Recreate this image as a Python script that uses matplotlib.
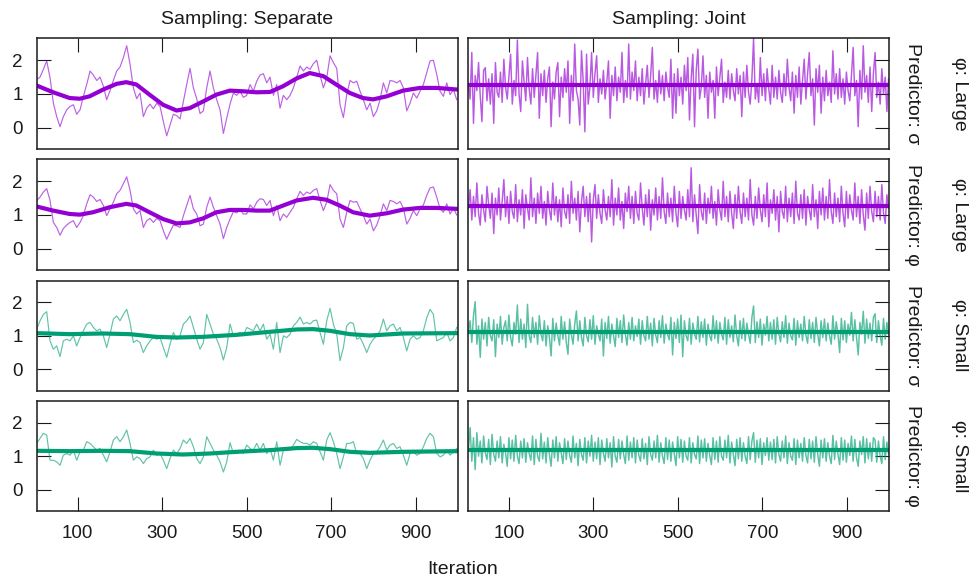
import numpy as np
import matplotlib
matplotlib.use("Agg")
import matplotlib.pyplot as plt

plt.rcParams['font.family'] = ['Liberation Sans', 'DejaVu Sans']

col_labels = ["Sampling: Separate", "Sampling: Joint"]
pred_labels = ["Predictor: σ", "Predictor: φ", "Predictor: σ", "Predictor: φ"]
phi_labels = ["φ: Large", "φ: Large", "φ: Small", "φ: Small"]
x_ticks = [100, 300, 500, 700, 900]
y_ticks = [0, 1, 2]
x_label = "Iteration"

# ---- Separate sampling: traces (read every ~8 iterations) ----
sep_r1 = [1.43,1.50,1.73,1.98,1.48,0.73,0.33,0.03,0.33,0.53,0.63,0.68,0.40,0.53,0.93,1.28,1.68,1.56,1.40,1.50,
          1.23,0.83,1.10,1.40,1.68,1.80,2.08,2.43,1.88,1.18,0.86,1.03,0.33,0.58,0.70,0.56,0.73,0.63,0.18,-0.24,
          0.08,0.40,0.36,0.26,0.78,1.28,1.76,1.18,0.86,0.42,0.50,1.18,1.68,1.18,0.83,0.53,-0.17,0.28,0.70,1.03,
          0.96,1.08,0.90,0.96,1.28,1.08,1.38,1.56,1.60,1.33,1.50,0.96,1.28,0.58,0.96,0.83,0.96,1.18,1.50,1.83,
          1.68,1.80,1.73,1.90,2.00,1.56,1.18,1.48,2.13,1.93,1.76,0.68,0.30,0.98,1.40,1.33,1.38,1.08,0.83,0.53,
          0.73,0.33,0.50,0.83,1.33,1.03,1.40,1.38,1.33,1.40,1.18,0.50,0.73,1.03,0.88,1.08,1.28,1.63,1.98,2.00,
          1.58,1.08,0.93,1.33,0.98,1.13,0.83]
sep_r2 = [1.43,1.53,1.68,1.78,1.43,0.78,0.63,0.40,0.60,0.70,0.78,0.83,0.63,0.78,0.98,1.33,1.60,1.53,1.40,1.46,
          1.28,0.98,1.18,1.38,1.63,1.73,1.93,2.13,1.73,1.18,1.03,1.13,0.63,0.83,0.90,0.78,0.90,0.83,0.53,0.28,
          0.50,0.70,0.68,0.63,0.98,1.28,1.58,1.18,1.03,0.68,0.73,1.23,1.53,1.23,0.98,0.73,0.30,0.63,0.88,1.10,
          1.06,1.16,1.03,1.03,1.30,1.18,1.38,1.48,1.46,1.28,1.43,0.98,1.28,0.83,1.03,0.93,1.08,1.23,1.48,1.70,
          1.58,1.68,1.63,1.73,1.78,1.43,1.13,1.38,1.90,1.73,1.63,0.88,0.63,1.08,1.43,1.38,1.40,1.18,0.98,0.73,
          0.88,0.53,0.70,0.98,1.33,1.13,1.43,1.40,1.33,1.40,1.20,0.73,0.90,1.13,0.98,1.18,1.30,1.58,1.80,1.83,
          1.53,1.18,1.08,1.33,1.03,1.20,1.00]
sep_r3 = [1.20,1.45,1.64,1.72,0.85,0.60,0.70,0.38,0.85,0.90,0.85,1.00,0.70,0.95,1.15,1.35,1.40,1.25,1.15,1.20,
          1.00,0.65,1.05,1.50,1.59,1.45,1.64,1.79,1.40,0.80,0.87,0.80,0.50,0.70,0.85,0.95,0.90,0.95,0.65,0.36,
          0.75,1.10,0.90,1.00,1.35,1.45,1.59,1.25,0.90,0.60,0.80,1.64,1.35,1.05,0.90,0.65,0.28,0.65,1.35,1.00,
          1.05,1.10,1.00,1.25,1.20,1.15,1.35,1.15,1.35,0.90,1.05,0.60,1.40,0.50,1.00,0.95,1.05,1.30,1.40,1.56,
          1.35,1.40,1.35,1.45,1.47,1.10,0.75,1.45,1.82,1.35,1.05,0.26,0.65,1.30,1.40,1.37,0.90,0.95,0.75,0.50,
          0.75,0.90,1.00,1.15,1.50,1.15,1.30,1.35,1.15,1.25,0.95,0.55,0.90,1.00,0.90,0.95,1.15,1.54,1.79,1.64,
          0.85,0.90,0.95,1.10,0.85,0.95,1.25]
sep_r4 = [1.38,1.53,1.68,1.63,0.88,0.88,0.83,0.73,1.03,1.08,1.03,1.18,0.88,1.13,1.18,1.43,1.38,1.28,1.18,1.23,
          1.03,0.83,1.13,1.48,1.58,1.43,1.58,1.78,1.38,0.88,0.98,0.93,0.78,0.93,0.98,1.18,1.03,1.08,0.88,0.63,
          0.93,1.18,1.08,1.23,1.48,1.38,1.53,1.28,0.93,0.78,0.98,1.58,1.38,1.18,1.03,0.83,0.53,0.83,1.40,1.08,
          1.08,1.13,1.08,1.33,1.23,1.18,1.38,1.18,1.38,1.08,1.23,0.88,1.43,0.73,1.18,1.18,1.18,1.33,1.50,1.43,
          1.38,1.38,1.33,1.43,1.38,1.13,0.88,1.48,1.70,1.43,1.08,0.63,0.98,1.38,1.38,1.43,1.08,1.08,0.93,0.63,
          0.88,1.08,1.13,1.28,1.48,1.18,1.33,1.38,1.23,1.28,1.03,0.73,1.08,1.13,1.03,1.08,1.28,1.53,1.68,1.58,
          1.08,0.98,1.03,1.18,1.03,1.13,1.23]
sep_traces = [sep_r1, sep_r2, sep_r3, sep_r4]

# ---- Separate sampling: smooth curves ----
sm_x1 = [3,42,81,105,128,160,192,215,239,270,302,334,365,397,428,460,491,523,555,586,618,649,681,712,744,775,799,831,870,910,949,1000]
sm_y1 = [1.25,1.05,0.88,0.86,0.93,1.13,1.30,1.35,1.28,0.98,0.68,0.51,0.58,0.78,0.98,1.10,1.08,1.05,1.06,1.23,1.46,1.62,1.53,1.28,1.03,0.88,0.84,0.93,1.10,1.18,1.18,1.13]
sm_x2 = [3,42,81,105,136,176,215,239,270,302,334,365,397,428,460,491,523,555,586,618,657,689,720,752,791,831,870,910,949,1000]
sm_y2 = [1.25,1.13,1.03,1.01,1.08,1.23,1.33,1.28,1.08,0.88,0.75,0.78,0.90,1.08,1.15,1.15,1.13,1.13,1.28,1.43,1.51,1.45,1.28,1.08,0.98,1.05,1.16,1.21,1.21,1.18]
sm_x3 = [3,81,160,223,286,334,397,476,555,618,657,697,744,791,870,1000]
sm_y3 = [1.08,1.05,1.07,1.05,0.97,0.95,0.97,1.03,1.12,1.19,1.20,1.15,1.05,1.01,1.07,1.08]
sm_x4 = [3,81,160,223,286,349,413,476,555,618,657,697,744,791,870,1000]
sm_y4 = [1.16,1.15,1.16,1.15,1.08,1.05,1.08,1.13,1.18,1.24,1.25,1.21,1.13,1.10,1.13,1.15]
sep_smooth = [(sm_x1, sm_y1), (sm_x2, sm_y2), (sm_x3, sm_y3), (sm_x4, sm_y4)]

# ---- Joint sampling: traces (read every ~4 iterations) ----
joint_r1 = [1.30,0.85,2.23,0.13,1.55,1.10,1.93,0.95,0.18,1.70, 1.78,0.80,1.45,0.70,1.60,0.13,1.93,1.05,0.90,1.65,
            0.75,2.03,1.20,0.85,1.50,2.18,0.70,1.40,0.95,2.60, 1.00,0.48,1.98,1.35,0.80,2.08,1.15,0.70,1.75,0.90,
            1.55,2.23,0.28,1.60,0.95,1.70,0.75,1.45,1.80,0.03, 1.35,0.85,1.65,1.93,0.33,1.50,0.90,1.75,1.05,1.98,
            0.13,1.55,0.80,2.48,1.10,0.85,0.08,2.28,1.40,-0.12, 2.18,0.70,1.20,2.23,0.90,1.60,2.13,0.75,1.45,1.00,
            1.70,0.85,1.35,1.98,0.28,1.55,0.95,1.80,0.80,1.50, 1.05,2.23,0.75,1.40,0.90,2.48,0.85,1.65,1.10,1.98,
            0.80,1.50,0.95,1.75,0.70,1.30,1.85,0.90,1.55,2.38, 0.85,1.40,0.75,1.70,1.00,1.55,0.80,1.65,1.20,0.90,
            2.03,0.28,1.60,0.43,1.75,0.95,1.50,0.70,1.85,1.10, 2.08,0.23,1.45,2.18,0.03,1.70,2.33,0.85,1.20,2.13,
            0.90,1.55,0.28,1.65,1.05,1.40,0.28,1.80,0.95,1.50, 2.03,0.75,1.35,0.90,1.70,0.85,1.60,1.10,0.80,1.75,
            1.00,1.55,0.33,1.65,0.90,1.85,1.05,0.70,1.45,2.65, 0.85,1.30,0.75,2.08,0.95,1.60,0.80,1.75,1.15,0.70,
            1.85,0.90,1.50,0.85,1.70,1.05,0.75,1.60,0.95,2.03, 1.20,0.80,1.65,0.43,1.55,0.90,1.80,0.70,1.40,2.03,
            0.85,1.60,2.23,0.95,1.45,0.08,1.75,1.05,1.85,0.43, 1.50,0.80,1.70,0.95,1.35,0.75,2.28,1.00,1.60,0.85,
            1.75,0.90,1.45,0.70,1.65,1.10,0.80,1.55,2.38,0.95, 1.40,0.03,1.70,0.85,2.43,1.05,1.55,0.75,1.80,0.48,
            1.60,2.23,0.90,1.35,0.70,1.75,1.00,1.50,0.48,1.45]
joint_r2 = [1.20,1.75,0.85,1.55,0.95,1.95,1.05,0.70,1.60,1.15, 0.80,1.85,1.30,0.90,1.65,0.45,1.50,1.00,1.80,0.85,
            1.40,2.05,0.95,1.55,0.75,1.70,1.10,0.90,1.90,0.80, 1.45,1.00,1.75,0.60,1.60,1.20,0.85,2.10,0.95,1.50,
            0.75,1.65,1.05,1.85,0.90,1.40,0.70,1.70,1.15,0.85, 1.95,1.00,1.55,0.80,1.45,0.65,1.80,1.10,0.90,1.60,
            0.75,2.00,1.05,1.50,0.85,1.70,0.50,1.40,1.85,0.95, 1.55,0.80,1.65,0.20,1.45,1.90,0.90,1.60,1.05,0.75,
            1.75,1.15,0.85,1.55,0.95,2.05,0.70,1.50,1.00,1.80, 0.85,1.40,0.60,1.65,1.10,1.85,0.90,1.55,0.75,1.70,
            1.05,0.85,1.95,1.20,0.70,1.60,0.95,1.75,0.55,1.45, 1.00,1.80,0.85,1.55,0.90,2.10,1.10,0.75,1.65,0.95,
            1.50,0.80,1.85,1.05,0.65,1.70,0.90,1.55,1.15,0.85, 1.75,0.95,2.40,0.80,1.60,1.00,0.45,1.90,1.10,0.85,
            1.65,0.75,1.50,1.05,1.85,0.90,1.40,0.70,1.75,1.15, 0.85,2.00,0.95,1.55,0.80,1.70,1.05,0.60,1.60,0.90,
            1.85,1.10,0.75,1.65,0.95,1.50,0.85,2.05,1.00,0.70, 1.55,0.90,1.80,1.15,0.80,1.60,0.95,1.95,0.65,1.45,
            1.05,1.75,0.85,1.55,0.50,1.70,1.10,0.90,1.85,0.80, 1.50,0.95,1.65,0.75,2.00,1.05,0.85,1.60,0.90,1.75,
            0.70,1.55,1.15,0.85,1.90,0.95,1.45,0.60,1.70,1.00, 1.80,0.85,1.55,0.90,2.05,1.10,0.75,1.65,0.95,1.50,
            0.80,1.85,1.05,0.65,1.70,0.90,1.60,1.15,0.85,1.95, 0.95,1.55,0.75,1.75,1.00,0.55,1.65,0.90,1.85,1.10,
            0.80,1.70,0.95,1.55,0.85,1.90,1.05,0.75,1.60,1.20]
joint_r3 = [1.10,1.45,0.80,1.60,2.02,0.75,1.30,0.36,1.50,0.90, 1.40,0.70,1.55,1.00,0.85,1.48,0.38,1.35,0.95,1.58,
            0.75,1.25,1.45,0.85,1.62,0.95,0.70,1.40,1.05,1.92, 0.80,1.50,0.90,1.35,0.65,1.94,1.00,0.80,1.55,0.95,
            1.40,0.75,1.60,1.05,0.85,1.45,0.70,1.30,0.95,0.40, 1.52,0.85,1.38,1.00,0.72,1.58,0.90,1.42,0.80,0.45,
            1.50,1.05,0.75,1.35,1.74,0.85,1.45,0.95,0.70,1.55, 1.00,0.82,1.48,0.90,1.60,0.75,1.30,1.05,0.85,1.50,
            0.40,1.40,0.92,1.58,0.78,1.35,1.00,0.68,1.52,0.95, 1.45,0.80,1.62,1.05,0.72,1.40,0.90,1.55,0.85,1.30,
            0.98,1.50,0.75,1.45,1.00,0.85,1.58,0.90,1.38,0.70, 1.52,1.02,0.80,1.45,0.95,1.60,0.78,1.35,1.05,0.88,
            1.55,0.43,1.40,0.92,1.50,0.80,1.62,0.38,1.45,1.00, 0.85,1.52,0.75,1.38,1.05,0.90,1.58,0.82,1.42,0.95,
            1.50,0.72,1.35,1.00,0.85,1.60,0.92,1.45,0.78,1.40, 1.05,0.88,1.55,0.75,1.48,0.95,1.30,0.82,1.62,1.00,
            0.70,1.45,0.92,1.52,0.85,1.38,1.05,0.78,1.55,1.89, 0.80,1.42,0.95,1.50,0.72,1.35,1.02,1.58,0.85,1.40,
            0.90,1.48,0.75,1.55,1.05,0.82,1.42,0.95,1.60,0.78, 1.38,1.00,0.88,1.52,0.72,1.45,0.95,1.35,0.85,1.58,
            1.02,0.78,1.48,0.92,1.40,0.80,1.55,1.05,0.70,1.45, 0.95,1.50,0.85,1.38,1.00,0.75,1.60,0.90,1.42,1.05,
            0.50,1.52,0.88,1.45,0.80,1.35,1.02,1.70,0.85,1.48, 0.95,0.43,1.40,1.05,1.73,0.78,1.50,0.92,1.38,0.85,
            1.55,1.66,0.80,1.45,1.00,0.72,1.52,0.90,1.40,1.05]
joint_r4 = [1.20,1.85,0.85,1.55,0.60,1.70,1.00,1.45,0.80,1.60, 1.10,0.90,1.50,0.75,1.65,1.05,0.85,1.45,0.95,1.58,
            0.80,1.35,1.10,0.70,1.55,0.92,1.48,0.85,1.62,1.00, 0.78,1.45,0.95,1.52,0.82,1.40,1.08,0.88,1.60,0.75,
            1.50,1.00,0.85,1.68,0.92,1.42,0.80,1.55,1.05,0.70, 1.48,0.95,1.58,0.85,1.40,1.10,0.78,1.52,0.90,1.45,
            1.02,0.82,1.60,0.95,1.38,0.72,1.50,1.05,0.88,1.55, 0.80,1.45,1.00,1.62,0.85,1.42,0.92,1.55,0.75,1.48,
            1.08,0.85,1.52,0.95,1.40,0.68,1.58,1.00,0.82,1.50, 0.92,1.45,1.05,0.78,1.60,0.88,1.42,0.95,1.55,0.80,
            1.48,1.02,0.85,1.52,0.92,1.38,0.75,1.58,1.05,0.88, 1.45,0.95,1.62,0.82,1.40,1.00,0.78,1.55,0.90,1.48,
            0.85,1.42,1.08,0.72,1.58,0.95,1.50,0.82,1.45,1.00, 0.88,1.55,0.80,1.40,1.05,0.92,1.60,0.78,1.48,0.95,
            1.52,0.85,1.38,1.02,0.75,1.55,0.90,1.45,0.82,1.58, 1.00,0.88,1.48,0.95,1.62,0.80,1.42,1.05,0.72,1.50,
            0.92,1.55,0.85,1.40,1.00,0.78,1.58,0.90,1.45,1.70, 0.82,1.48,0.95,1.52,0.75,1.40,1.02,1.55,0.88,1.42,
            0.90,1.50,0.80,1.58,1.05,0.85,1.45,0.95,1.60,0.78, 1.40,1.00,0.88,1.52,0.75,1.48,0.95,1.38,0.85,1.55,
            1.02,0.80,1.50,0.92,1.45,0.82,1.58,1.05,0.70,1.48, 0.95,1.52,0.85,1.40,1.00,0.78,1.62,0.90,1.45,1.05,
            0.75,1.55,0.88,1.48,0.82,1.38,1.02,1.60,0.85,1.50, 0.95,0.70,1.45,1.05,1.58,0.80,1.52,0.92,1.40,0.85,
            1.55,1.48,0.82,1.45,1.00,0.78,1.58,0.90,1.42,1.08]
joint_traces = [joint_r1, joint_r2, joint_r3, joint_r4]
joint_mean = [1.28, 1.27, 1.10, 1.17]

# ---- styling ----
thick_cols = ["#9400D3", "#9400D3", "#009E73", "#009E73"]
W, H = 976, 582
col_px = [(36.7, 458.0), (468.0, 889.0)]
row_px = [(38.3, 149.0), (159.3, 270.0), (280.5, 390.5), (400.7, 511.0)]
XLIM = (3, 1000)
YLIM = (-0.63, 2.65)
FS_TICK = 13.5
FS_TXT = 14
TXT = '#1a1a1a'

fig = plt.figure(figsize=(W / 100, H / 100), dpi=100)

for r in range(4):
    for c in range(2):
        x0, x1 = col_px[c]
        y0, y1 = row_px[r]
        ax = fig.add_axes([x0 / W, 1 - y1 / H, (x1 - x0) / W, (y1 - y0) / H])
        col = thick_cols[r]
        if c == 0:
            vals = sep_traces[r]
            xs = np.linspace(3, 997, len(vals))
            ax.plot(xs, vals, color=col, alpha=0.62, lw=0.85)
            sx, sy = sep_smooth[r]
            ax.plot(sx, sy, color=col, lw=3.0)
        else:
            vals = joint_traces[r]
            xs = np.linspace(4, 999, len(vals))
            ax.plot(xs, vals, color=col, alpha=0.65, lw=1.05)
            ax.axhline(joint_mean[r], color=col, lw=3.0)
        ax.set_xlim(*XLIM)
        ax.set_ylim(*YLIM)
        ax.set_xticks(x_ticks)
        ax.set_yticks(y_ticks)
        for sp in ax.spines.values():
            sp.set_linewidth(1.1)
            sp.set_color(TXT)
        ax.tick_params(direction='in', length=10, width=0.8, color=TXT,
                       labelsize=FS_TICK, labelcolor=TXT, pad=10,
                       left=(c == 0), right=(c == 1), labelleft=(c == 0), labelright=False,
                       top=(r == 0), bottom=(r == 3), labeltop=False, labelbottom=(r == 3))
        if r == 0:
            ax.set_title(col_labels[c], fontsize=FS_TXT, color=TXT, pad=10)
        if c == 1:
            yc = 1 - (y0 + y1) / 2 / H
            fig.text(913 / W, yc, pred_labels[r], rotation=270, ha='center', va='center',
                     fontsize=FS_TXT, color=TXT)
            fig.text(959.5 / W, yc, phi_labels[r], rotation=270, ha='center', va='center',
                     fontsize=FS_TXT, color=TXT)

fig.text(463 / W, 1 - 570 / H, x_label, ha='center', va='center', fontsize=FS_TXT, color=TXT)

fig.savefig("out.png", dpi=100)
